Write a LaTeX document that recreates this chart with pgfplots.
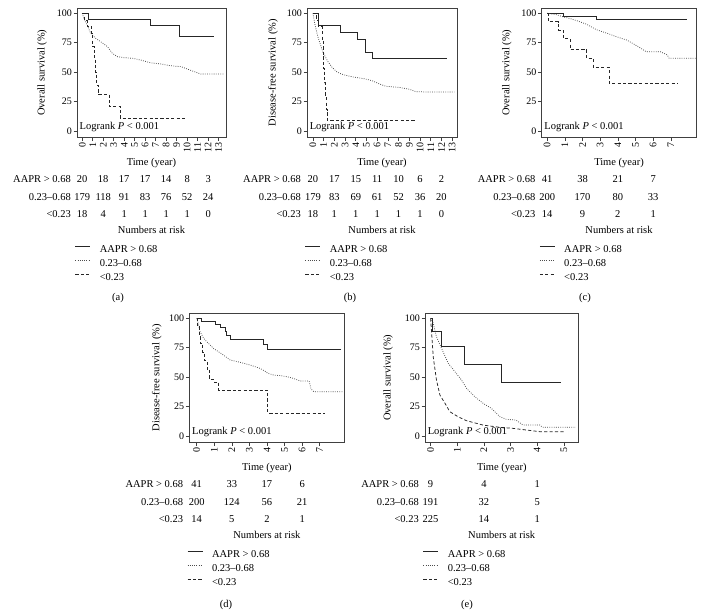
\documentclass[border=0pt]{standalone}
\usepackage{fontspec}
\setmainfont{Liberation Serif}
\usepackage{pgfplots}
\pgfplotsset{compat=1.18}
\newcommand{\rfont}{\fontsize{10.5}{12}\selectfont}
\tikzset{rn/.style={anchor=base, inner sep=0pt, font=\rfont},
         rl/.style={anchor=base east, inner sep=0pt, font=\rfont},
         tx/.style={anchor=base, inner sep=0pt, font=\rfont}}
\newcommand{\rr}[4]{%
 \node[rn] at ([yshift=-44.5pt]axis cs:#1,-5.5) {#2};
 \node[rn] at ([yshift=-62.5pt]axis cs:#1,-5.5) {#3};
 \node[rn] at ([yshift=-79.5pt]axis cs:#1,-5.5) {#4};}
\newcommand{\logrank}{\node[anchor=west, inner sep=0pt, font=\rfont] at (rel axis cs:0.017,0.078) {Logrank \textit{P} < 0.001};}
\pgfplotsset{
 km/.style={
  scale only axis, anchor=north west, clip=false,
  ymin=-5.5, ymax=104.5, ytick={0,25,50,75,100},
  axis line style={black!75, line width=0.6pt},
  tick style={black!75, line width=0.6pt},
  tick align=outside, major tick length=3.5pt, tick pos=left,
  /pgf/number format/assume math mode=true,
  xticklabel style={rotate=90, anchor=east, font=\fontsize{10}{12}\selectfont, inner sep=1.5pt},
  yticklabel style={font=\fontsize{10}{12}\selectfont, inner sep=1.5pt},
  label style={font=\rfont},
  xlabel={Time (year)},
  xlabel style={at={(axis description cs:0.5,-0.193)}, anchor=center},
  ylabel style={anchor=center},
  legend style={at={(-0.013,-0.811)}, anchor=north west, draw=none, fill=none,
     inner sep=0pt, outer sep=0pt, font=\rfont, row sep=0pt, column sep=0pt,
     nodes={inner sep=0pt, text height=10pt, text depth=4pt}},
  legend cell align=left,
  legend image code/.code={\draw[#1] (0pt,3.5pt) -- (15pt,3.5pt); \path (24pt,3.5pt);},
 },
 s1/.style={black!85, line width=0.75pt},
 s2/.style={black!70, line width=0.75pt, dash pattern=on 0.8pt off 1.4pt},
 s3/.style={black!85, line width=0.75pt, dash pattern=on 3.2pt off 2.2pt},
}
\begin{document}
\begin{tikzpicture}
\path[use as bounding box] (0pt,0pt) rectangle (703pt,-614pt);

% ---------- (a)
\begin{axis}[km, at={(77pt,-8pt)}, width=149pt, height=129.5pt,
  xmin=-0.5, xmax=13.7, xtick={0,1,...,13},
  ylabel={Overall survival (\%)}, ylabel style={at={(axis description cs:-0.235,0.5)}}]
\addplot[s1] coordinates {(0,100) (0.55,100) (0.55,94.7) (6.45,94.7) (6.45,89.5) (9.3,89.5) (9.3,80.5) (12.6,80.5)};
\addplot[s2] coordinates {(0,100) (0.16,95.8) (0.48,90) (0.8,83) (1.27,78.8) (1.75,75.9) (2.4,71.7) (2.87,66) (3.34,63.2) (3.98,62.3) (4.78,61.8) (5.57,60.3) (6.5,58) (7.5,57) (8.4,55.5) (9.4,54.7) (10.0,52.7) (10.7,50.4) (11.3,48.4) (13.5,48.4)};
\addplot[s3] coordinates {(0,100) (0.2,100) (0.2,94.4) (0.45,94.4) (0.45,88.9) (0.88,88.9) (0.88,83.3) (1.0,83.3) (1.0,72) (1.15,72) (1.15,61) (1.25,61) (1.25,50) (1.35,50) (1.35,39) (1.5,39) (1.5,31.2) (2.55,31.2) (2.55,20.8) (3.65,20.8) (3.65,10.4) (10.0,10.4)};
\legend{AAPR > 0.68, 0.23--0.68, <0.23}
\logrank
\rr{0}{20}{179}{18}\rr{2}{18}{118}{4}\rr{4}{17}{91}{1}\rr{6}{17}{83}{1}\rr{8}{14}{76}{1}\rr{10}{8}{52}{1}\rr{12}{3}{24}{0}
\end{axis}

% ---------- (b)
\begin{axis}[km, at={(307pt,-8pt)}, width=150pt, height=129.5pt,
  xmin=-0.55, xmax=13.45, xtick={0,1,...,13},
  ylabel={Disease-free survival (\%)}, ylabel style={at={(axis description cs:-0.227,0.5)}}]
\addplot[s1] coordinates {(0,100) (0.5,100) (0.5,89.5) (2.52,89.5) (2.52,84) (4.14,84) (4.14,78.2) (4.86,78.2) (4.86,67) (5.55,67) (5.55,61.8) (12.55,61.8)};
\addplot[s2] coordinates {(0,100) (0.2,90) (0.47,80) (0.93,67) (1.4,59) (1.8,54) (2.2,50.5) (2.5,49) (3.0,47.5) (3.7,46) (4.4,45) (5.0,44) (5.6,42.5) (6.2,40) (6.8,38) (7.5,37.5) (8.1,37) (9.0,35.5) (9.6,33.5) (10.5,33.2) (13.2,33.2)};
\addplot[s3] coordinates {(0,100) (0.3,100) (0.3,94.4) (0.5,94.4) (0.5,88.9) (0.85,88.9) (0.85,77) (0.95,77) (0.95,65) (1.02,65) (1.02,53) (1.1,53) (1.1,41) (1.18,41) (1.18,29) (1.25,29) (1.25,18) (1.33,18) (1.33,9.4) (9.6,9.4)};
\legend{AAPR > 0.68, 0.23--0.68, <0.23}
\logrank
\rr{0}{20}{179}{18}\rr{2}{17}{83}{1}\rr{4}{15}{69}{1}\rr{6}{11}{61}{1}\rr{8}{10}{52}{1}\rr{10}{6}{36}{1}\rr{12}{2}{20}{0}
\end{axis}

% ---------- (c)
\begin{axis}[km, at={(541.5pt,-8pt)}, width=155pt, height=129.5pt,
  xmin=-0.32, xmax=8.45, xtick={0,1,...,7},
  ylabel={Overall survival (\%)}, ylabel style={at={(axis description cs:-0.223,0.5)}}]
\addplot[s1] coordinates {(0,100) (0.9,100) (0.9,97.6) (2.8,97.6) (2.8,94.9) (7.9,94.9)};
\addplot[s2] coordinates {(0,100) (0.5,99) (0.9,97) (1.3,95.5) (1.66,93.8) (2.2,90.9) (2.8,86) (3.4,83) (3.9,80.2) (4.5,77.3) (4.9,73.9) (5.3,70.3) (5.6,67.4) (6.4,67.4) (6.8,64.6) (6.9,61.8) (8.4,61.8)};
\addplot[s3] coordinates {(0,100) (0.05,100) (0.05,92.9) (0.62,92.9) (0.62,85.7) (0.9,85.7) (0.9,78.6) (1.29,78.6) (1.29,69.4) (2.23,69.4) (2.23,61.8) (2.6,61.8) (2.6,54.1) (3.5,54.1) (3.5,40.6) (7.43,40.6)};
\legend{AAPR > 0.68, 0.23--0.68, <0.23}
\logrank
\rr{0}{41}{200}{14}\rr{2}{38}{170}{9}\rr{4}{21}{80}{2}\rr{6}{7}{33}{1}
\end{axis}

% ---------- (d)
\begin{axis}[km, at={(189.3pt,-313pt)}, width=155pt, height=129.5pt,
  xmin=-0.42, xmax=8.4, xtick={0,1,...,7},
  ylabel={Disease-free survival (\%)}, ylabel style={at={(axis description cs:-0.21,0.5)}}]
\addplot[s1] coordinates {(0,100) (0.29,100) (0.29,97.6) (1.05,97.6) (1.05,95.1) (1.33,95.1) (1.33,92.5) (1.62,92.5) (1.62,88.7) (1.71,88.7) (1.71,85.3) (1.9,85.3) (1.9,82.2) (3.77,82.2) (3.77,77.9) (4.0,77.9) (4.0,73.7) (8.2,73.7)};
\addplot[s2] coordinates {(0,100) (0.1,95) (0.19,88.7) (0.4,83) (0.57,80.2) (0.95,74.5) (1.2,72) (1.52,68.8) (1.9,64.6) (2.48,62.6) (3.05,60.3) (3.6,57.5) (3.9,55) (4.04,53.3) (4.38,51.8) (4.76,51.3) (5.14,50.4) (5.5,49) (5.9,46.7) (6.4,46.7) (6.5,40) (6.67,37.7) (8.35,37.7)};
\addplot[s3] coordinates {(0,100) (0.05,100) (0.05,92.9) (0.15,92.9) (0.15,85.7) (0.2,85.7) (0.2,78.6) (0.35,78.6) (0.35,71.4) (0.45,71.4) (0.45,64.3) (0.6,64.3) (0.6,56.3) (0.75,56.3) (0.75,47.8) (1.0,47.8) (1.0,45.5) (1.25,45.5) (1.25,38.9) (4.05,38.9) (4.05,19.5) (7.3,19.5)};
\legend{AAPR > 0.68, 0.23--0.68, <0.23}
\logrank
\rr{0}{41}{200}{14}\rr{2}{33}{124}{5}\rr{4}{17}{56}{2}\rr{6}{6}{21}{1}
\end{axis}

% ---------- (e)
\begin{axis}[km, at={(425pt,-313pt)}, width=153.5pt, height=129.5pt,
  xmin=-0.21, xmax=5.55, xtick={0,1,...,5},
  ylabel={Overall survival (\%)}, ylabel style={at={(axis description cs:-0.241,0.5)}}]
\addplot[s1] coordinates {(0,100) (0.06,100) (0.06,88.9) (0.41,88.9) (0.41,76.2) (1.25,76.2) (1.25,61) (2.65,61) (2.65,45.7) (4.9,45.7)};
\addplot[s2] coordinates {(0,100) (0.1,95.8) (0.22,84.4) (0.41,74.5) (0.66,61.8) (0.91,54.7) (1.16,47.6) (1.35,40.5) (1.66,33.4) (1.97,27.8) (2.28,23.5) (2.6,16.4) (2.84,14.2) (3.2,13.6) (3.47,9.3) (4.1,9.3) (4.2,7.4) (5.45,7.4)};
\addplot[s3] coordinates {(0,100) (0.04,87) (0.1,67) (0.22,47.6) (0.35,34.8) (0.54,27.8) (0.72,20.7) (1.03,16.4) (1.35,13) (1.97,9.3) (2.6,7.4) (3.1,6.5) (3.6,5.1) (4.1,3.7) (5.0,3.7)};
\legend{AAPR > 0.68, 0.23--0.68, <0.23}
\logrank
\rr{0}{9}{191}{225}\rr{2}{4}{32}{14}\rr{4}{1}{5}{1}
\end{axis}

% ---------- risk-table row labels, titles, captions
\foreach \xx in {71,301,535.5}{
  \node[rl] at (\xx pt,-182pt) {AAPR > 0.68};
  \node[rl] at (\xx pt,-200pt) {0.23--0.68};
  \node[rl] at (\xx pt,-217pt) {<0.23};}
\foreach \xx in {183.3,419}{
  \node[rl] at (\xx pt,-487pt) {AAPR > 0.68};
  \node[rl] at (\xx pt,-505pt) {0.23--0.68};
  \node[rl] at (\xx pt,-522pt) {<0.23};}
\node[tx] at (151.5pt,-233pt) {Numbers at risk};
\node[tx] at (382pt,-233pt) {Numbers at risk};
\node[tx] at (619pt,-233pt) {Numbers at risk};
\node[tx] at (266.8pt,-538.5pt) {Numbers at risk};
\node[tx] at (501.7pt,-538.5pt) {Numbers at risk};
\node[font=\rfont, inner sep=0pt] at (118pt,-298pt) {(a)};
\node[font=\rfont, inner sep=0pt] at (350pt,-298pt) {(b)};
\node[font=\rfont, inner sep=0pt] at (585pt,-298pt) {(c)};
\node[font=\rfont, inner sep=0pt] at (226pt,-605pt) {(d)};
\node[font=\rfont, inner sep=0pt] at (467pt,-605pt) {(e)};
\end{tikzpicture}
\end{document}
